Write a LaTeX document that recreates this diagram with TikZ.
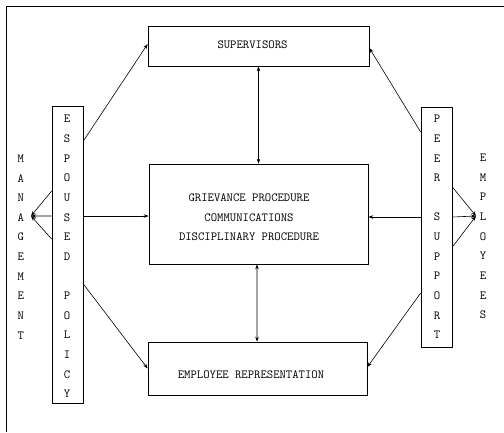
\documentclass[tikz,border=0pt]{standalone}
\usepackage{fontspec}
\newcommand\tw{\ttfamily}
\usetikzlibrary{arrows.meta}
\begin{document}
\begin{tikzpicture}[x=1bp,y=-1bp,
  box/.style={draw,line width=0.7pt,inner sep=0pt},
  lbl/.style={font={\tw\fontsize{12.4}{13}\selectfont},align=center,inner sep=0pt},
  vlbl/.style={font={\tw\fontsize{12.4}{19.7}\selectfont},align=center,inner sep=0pt},
  conn/.style={line width=0.6pt,-{Stealth[length=5pt,width=3.5pt]}},
  dconn/.style={line width=0.6pt,{Stealth[length=5pt,width=3.5pt]}-{Stealth[length=5pt,width=3.5pt]}}]
\useasboundingbox (0,0) rectangle (504,432);
% frame (top and left only)
\coordinate (ftl) at (6,6);
\coordinate (ftr) at (504,6);
\coordinate (fbl) at (6,432);
\draw[line width=0.9pt] (ftr) -- (ftl) -- (fbl);
% boxes
\node[box,minimum width=221bp,minimum height=40bp] (sup) at (258.5,46) {};
\node[lbl] (supt) at (252.5,45) {SUPERVISORS};
\node[box,minimum width=219bp,minimum height=100bp] (ctr) at (258.5,214) {};
\node[vlbl] (ctrt) at (249,217.5) {GRIEVANCE PROCEDURE\\COMMUNICATIONS\\DISCIPLINARY PROCEDURE};
\node[box,minimum width=219bp,minimum height=53bp] (rep) at (257.5,368.5) {};
\node[lbl] (rept) at (251,375) {EMPLOYEE REPRESENTATION};
\node[box,minimum width=31bp,minimum height=297bp] (esp) at (67.5,254.5) {};
\node[vlbl] (espt) at (67,256.5) {E\\S\\P\\O\\U\\S\\E\\D\\{}\\P\\O\\L\\I\\C\\Y};
\node[box,minimum width=31bp,minimum height=240bp] (peer) at (436.5,227) {};
\node[vlbl] (peert) at (437,227) {P\\E\\E\\R\\{}\\S\\U\\P\\P\\O\\R\\T};
\node[vlbl] (mgt) at (20.7,247) {M\\A\\N\\A\\G\\E\\M\\E\\N\\T};
\node[vlbl] (emp) at (483,236.5) {E\\M\\P\\L\\O\\Y\\E\\E\\S};
% tips
\coordinate (mtip) at (31,216);
\coordinate (etip) at (476,216);
% left arrows
\draw[conn] ([yshift=113.5bp]esp.east) -- ([yshift=2bp]sup.west);
\draw[conn] ([yshift=-29.5bp]esp.east) -- (rep.west);
\draw[conn] ([yshift=-2bp]esp.east |- ctr.west) -- ([yshift=-2bp]ctr.west);
\draw[conn] ([yshift=63.5bp]esp.west) -- (mtip);
\draw[conn] ([yshift=38.5bp]esp.west) -- (mtip);
\draw[conn] ([yshift=15.5bp]esp.west) -- (mtip);
% right arrows
\draw[conn] ([yshift=95bp]peer.west) -- ([yshift=-2bp]sup.east);
\draw[conn] ([yshift=-66bp]peer.west) -- ([yshift=1.5bp]rep.east);
\draw[conn] ([yshift=-3bp]peer.west |- ctr.east) -- ([yshift=-3bp]ctr.east);
\draw[conn] ([yshift=40bp]peer.east) -- (etip);
\draw[conn] ([yshift=10bp]peer.east) -- (etip);
\draw[conn] ([yshift=-20bp]peer.east) -- (etip);
% vertical double arrows
\draw[dconn] (sup.south) -- (ctr.north);
\draw[dconn] ([xshift=-1.5bp]ctr.south) -- ([xshift=-0.5bp]rep.north);
\end{tikzpicture}
\end{document}
